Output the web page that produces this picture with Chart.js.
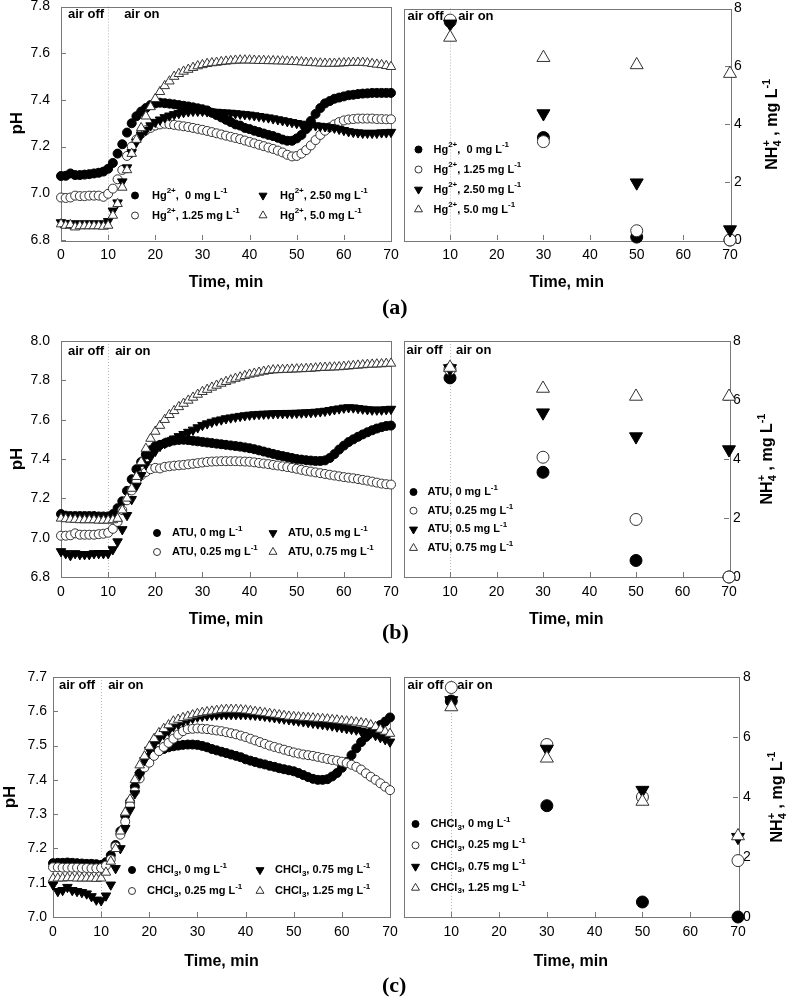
<!DOCTYPE html>
<html>
<head>
<meta charset="utf-8">
<script src="https://cdn.jsdelivr.net/npm/chart.js@4.4.1/dist/chart.umd.min.js"></script>
<style>
  body { margin: 0; background: #fff; }
  #page { position: relative; width: 788px; height: 1000px; overflow: hidden; }
  canvas { position: absolute; }
  .tag { position: absolute; font: bold 22px "Liberation Serif", "Times New Roman", serif; line-height: 22px; color: #000; }
</style>
</head>
<body>
<div id="page">
  <canvas id="aL"></canvas><canvas id="aR"></canvas>
  <canvas id="bL"></canvas><canvas id="bR"></canvas>
  <canvas id="cL"></canvas><canvas id="cR"></canvas>
  <div class="tag" style="left:382px;top:296px">(a)</div>
  <div class="tag" style="left:382px;top:621px">(b)</div>
  <div class="tag" style="left:382px;top:974px">(c)</div>
</div>
<script>
const FONT = '"Liberation Sans", Arial, Helvetica, sans-serif';
Chart.defaults.font.family = FONT;
Chart.defaults.color = '#000';

// x values
const minutes = [0,1,2,3,4,5,6,7,8,9,10,11,12,13,14,15,16,17,18,19,20,
  21,22,23,24,25,26,27,28,29,30,31,32,33,34,35,36,37,38,39,40,
  41,42,43,44,45,46,47,48,49,50,51,52,53,54,55,56,57,58,59,60,
  61,62,63,64,65,66,67,68,69,70];
const sampleMinutes = [10, 30, 50, 70];

// (a) pH with Hg2+
const phHg0 = [7.074,7.075,7.085,7.078,7.078,7.080,7.082,7.085,7.088,7.093,7.105,
  7.13,7.17,7.21,7.26,7.30,7.33,7.35,7.365,7.378,7.385,
  7.388,7.386,7.384,7.381,7.378,7.375,7.372,7.368,7.364,7.36,
  7.355,7.345,7.335,7.325,7.315,7.305,7.295,7.29,7.28,7.275,
  7.268,7.262,7.256,7.25,7.245,7.238,7.23,7.225,7.225,7.235,
  7.25,7.275,7.31,7.34,7.365,7.385,7.395,7.405,7.41,7.415,
  7.42,7.422,7.425,7.427,7.428,7.43,7.43,7.43,7.43,7.43];
const phHg125 = [6.982,6.98,6.982,6.99,6.988,6.988,6.99,6.99,6.99,6.985,6.998,
  7.02,7.06,7.10,7.16,7.20,7.23,7.255,7.27,7.28,7.29,
  7.295,7.298,7.296,7.293,7.29,7.287,7.284,7.28,7.276,7.272,
  7.267,7.262,7.257,7.252,7.247,7.242,7.237,7.232,7.226,7.22,
  7.214,7.208,7.202,7.196,7.19,7.183,7.175,7.165,7.158,7.16,
  7.17,7.185,7.205,7.228,7.25,7.268,7.283,7.295,7.305,7.312,
  7.316,7.318,7.32,7.32,7.32,7.32,7.318,7.318,7.317,7.317];
const phHg250 = [6.875,6.872,6.87,6.87,6.87,6.87,6.87,6.87,6.87,6.87,6.88,
  6.925,6.96,7.05,7.11,7.175,7.22,7.25,7.27,7.29,7.305,
  7.315,7.325,7.332,7.338,7.343,7.347,7.35,7.352,7.352,7.352,
  7.35,7.349,7.348,7.346,7.345,7.344,7.342,7.34,7.338,7.336,
  7.333,7.33,7.327,7.324,7.32,7.316,7.312,7.308,7.304,7.30,
  7.297,7.294,7.292,7.29,7.288,7.286,7.283,7.28,7.275,7.27,
  7.265,7.262,7.26,7.258,7.258,7.258,7.258,7.26,7.26,7.262];
const phHg50 = [6.868,6.862,6.865,6.855,6.86,6.86,6.86,6.86,6.86,6.858,6.862,
  6.905,6.955,7.025,7.10,7.17,7.23,7.28,7.33,7.37,7.405,
  7.435,7.46,7.48,7.50,7.512,7.522,7.53,7.538,7.545,7.55,
  7.555,7.558,7.56,7.563,7.565,7.567,7.569,7.57,7.57,7.57,
  7.569,7.568,7.568,7.567,7.567,7.566,7.566,7.565,7.564,7.563,
  7.562,7.56,7.56,7.558,7.557,7.556,7.556,7.556,7.557,7.558,
  7.559,7.56,7.56,7.56,7.558,7.555,7.552,7.55,7.546,7.542];

// (a) NH4+ with Hg2+
const nh4Hg0 = [7.55, 3.54, 0.10, 0.00];
const nh4Hg125 = [7.60, 3.40, 0.32, 0.00];
const nh4Hg250 = [7.47, 4.37, 1.98, 0.36];
const nh4Hg50 = [7.00, 6.30, 6.05, 5.75];

// (b) pH with ATU
const phAtu0 = [7.12,7.112,7.11,7.11,7.11,7.11,7.11,7.11,7.108,7.108,7.108,
  7.12,7.15,7.185,7.238,7.297,7.348,7.385,7.423,7.445,7.465,
  7.472,7.48,7.488,7.494,7.497,7.498,7.496,7.493,7.49,7.487,
  7.484,7.481,7.478,7.475,7.472,7.469,7.466,7.463,7.459,7.455,
  7.45,7.444,7.438,7.432,7.426,7.42,7.415,7.41,7.405,7.40,
  7.397,7.394,7.392,7.39,7.39,7.393,7.405,7.425,7.448,7.468,
  7.486,7.50,7.513,7.525,7.536,7.546,7.555,7.562,7.568,7.57];
const phAtu025 = [7.01,7.01,7.012,7.022,7.015,7.015,7.015,7.015,7.018,7.02,7.025,
  7.045,7.08,7.14,7.19,7.24,7.284,7.317,7.334,7.348,7.355,
  7.352,7.36,7.363,7.366,7.368,7.37,7.373,7.376,7.379,7.382,
  7.385,7.387,7.388,7.389,7.389,7.389,7.389,7.388,7.387,7.386,
  7.383,7.38,7.377,7.374,7.37,7.367,7.363,7.359,7.355,7.35,
  7.345,7.34,7.336,7.332,7.328,7.324,7.32,7.316,7.312,7.308,
  7.305,7.302,7.298,7.294,7.29,7.285,7.28,7.275,7.272,7.27];
const phAtu05 = [6.93,6.92,6.91,6.92,6.915,6.915,6.915,6.92,6.92,6.92,6.92,
  6.94,6.98,7.042,7.114,7.195,7.263,7.317,7.372,7.41,7.44,
  7.465,7.48,7.492,7.503,7.515,7.526,7.537,7.548,7.56,7.572,
  7.58,7.588,7.595,7.60,7.606,7.61,7.614,7.618,7.621,7.624,
  7.626,7.628,7.629,7.63,7.631,7.632,7.632,7.633,7.633,7.634,
  7.635,7.636,7.637,7.639,7.641,7.644,7.648,7.652,7.656,7.66,
  7.662,7.661,7.658,7.655,7.652,7.65,7.65,7.65,7.652,7.654];
const phAtu075 = [7.098,7.095,7.093,7.092,7.09,7.09,7.09,7.09,7.088,7.088,7.088,
  7.09,7.097,7.14,7.20,7.25,7.31,7.385,7.453,7.504,7.54,
  7.57,7.60,7.625,7.645,7.665,7.682,7.698,7.713,7.728,7.742,
  7.753,7.764,7.774,7.784,7.793,7.801,7.809,7.816,7.823,7.83,
  7.835,7.84,7.845,7.849,7.852,7.853,7.854,7.855,7.856,7.857,
  7.858,7.859,7.86,7.862,7.864,7.865,7.866,7.867,7.868,7.87,
  7.872,7.874,7.876,7.878,7.88,7.881,7.882,7.883,7.885,7.886];

// (b) NH4+ with ATU
const nh4Atu0 = [6.75, 3.55, 0.56, 0.00];
const nh4Atu025 = [7.05, 4.06, 1.95, 0.00];
const nh4Atu05 = [7.07, 5.57, 4.76, 4.32];
const nh4Atu075 = [7.10, 6.39, 6.12, 6.12];

// (c) pH with CHCl3
const phChl0 = [7.157,7.158,7.158,7.159,7.158,7.157,7.156,7.155,7.155,7.154,7.152,
  7.16,7.18,7.21,7.25,7.295,7.336,7.38,7.419,7.445,7.467,
  7.475,7.484,7.49,7.495,7.498,7.50,7.502,7.503,7.503,7.502,
  7.499,7.495,7.49,7.486,7.482,7.478,7.474,7.47,7.466,7.46,
  7.456,7.452,7.448,7.445,7.441,7.438,7.434,7.431,7.428,7.425,
  7.42,7.414,7.408,7.403,7.40,7.40,7.402,7.41,7.42,7.435,
  7.452,7.472,7.492,7.51,7.525,7.538,7.55,7.56,7.57,7.582];
const phChl025 = [7.145,7.145,7.144,7.144,7.144,7.144,7.143,7.143,7.142,7.142,7.143,
  7.15,7.168,7.205,7.24,7.278,7.325,7.366,7.404,7.436,7.45,
  7.47,7.484,7.496,7.508,7.52,7.532,7.542,7.548,7.549,7.55,
  7.549,7.548,7.546,7.544,7.542,7.539,7.536,7.533,7.529,7.525,
  7.52,7.515,7.51,7.505,7.50,7.496,7.492,7.488,7.484,7.48,
  7.477,7.474,7.472,7.47,7.467,7.464,7.461,7.458,7.456,7.453,
  7.449,7.444,7.438,7.43,7.419,7.409,7.40,7.39,7.38,7.37];
const phChl075 = [7.094,7.075,7.078,7.087,7.078,7.075,7.072,7.068,7.06,7.05,7.048,
  7.062,7.094,7.142,7.20,7.259,7.312,7.36,7.414,7.457,7.487,
  7.504,7.52,7.532,7.543,7.556,7.563,7.57,7.575,7.58,7.584,
  7.586,7.588,7.589,7.59,7.591,7.591,7.591,7.591,7.591,7.591,
  7.59,7.589,7.588,7.586,7.584,7.582,7.58,7.578,7.576,7.574,
  7.572,7.57,7.568,7.566,7.564,7.562,7.56,7.558,7.555,7.553,
  7.55,7.548,7.546,7.543,7.54,7.536,7.53,7.524,7.518,7.511];
const phChl125 = [7.112,7.113,7.113,7.114,7.114,7.113,7.113,7.113,7.113,7.112,7.113,
  7.13,7.162,7.199,7.25,7.305,7.343,7.40,7.443,7.469,7.497,
  7.52,7.537,7.549,7.56,7.571,7.576,7.581,7.585,7.589,7.593,
  7.596,7.598,7.60,7.602,7.604,7.605,7.605,7.605,7.604,7.603,
  7.601,7.599,7.597,7.595,7.593,7.591,7.589,7.587,7.585,7.584,
  7.583,7.582,7.581,7.58,7.579,7.578,7.577,7.575,7.574,7.572,
  7.571,7.57,7.568,7.566,7.564,7.56,7.555,7.547,7.541,7.535];

// (c) NH4+ with CHCl3
const nh4Chl0 = [7.20, 3.71, 0.50, 0.00];
const nh4Chl025 = [7.65, 5.75, 4.00, 1.88];
const nh4Chl075 = [7.22, 5.60, 4.23, 2.66];
const nh4Chl125 = [7.00, 5.29, 3.85, 2.70];

// legend texts (s: sup/sub, stack: drawn above the previous piece)
const mgL = [{t: ' mg L'}, {t: '-1', s: 'sup'}];
const hgNames = [
  [{t: 'Hg'}, {t: '2+', s: 'sup'}, {t: ',  0'}, ...mgL],
  [{t: 'Hg'}, {t: '2+', s: 'sup'}, {t: ', 1.25'}, ...mgL],
  [{t: 'Hg'}, {t: '2+', s: 'sup'}, {t: ', 2.50'}, ...mgL],
  [{t: 'Hg'}, {t: '2+', s: 'sup'}, {t: ', 5.0'}, ...mgL]
];
const atuNames = [
  [{t: 'ATU, 0'}, ...mgL],
  [{t: 'ATU, 0.25'}, ...mgL],
  [{t: 'ATU, 0.5'}, ...mgL],
  [{t: 'ATU, 0.75'}, ...mgL]
];
const chlNames = [
  [{t: 'CHCl'}, {t: '3', s: 'sub'}, {t: ', 0'}, ...mgL],
  [{t: 'CHCl'}, {t: '3', s: 'sub'}, {t: ', 0.25'}, ...mgL],
  [{t: 'CHCl'}, {t: '3', s: 'sub'}, {t: ', 0.75'}, ...mgL],
  [{t: 'CHCl'}, {t: '3', s: 'sub'}, {t: ', 1.25'}, ...mgL]
];
const nh4Title = [{t: 'NH'}, {t: '4', s: 'sub'}, {t: '+', s: 'sup', stack: true}, {t: ' , mg L'}, {t: '-1', s: 'sup'}];

// marker looks, one per series
const markers = [
  {style: 'circle', fill: '#000', stroke: '#000', rot: 0},
  {style: 'circle', fill: '#fff', stroke: '#333', rot: 0},
  {style: 'triangle', fill: '#000', stroke: '#000', rot: 180},
  {style: 'triangle', fill: '#fff', stroke: '#333', rot: 0}
];

const panels = [
  {id: 'aL', side: 'left', xs: minutes, series: [phHg0, phHg125, phHg250, phHg50], names: hgNames,
   y: [6.8, 7.8, 0.2], box: [0, 0, 400, 300], pad: {left: 0, top: 6, right: 9, bottom: 8}, axisW: 61, axisH: 52,
   titlePad: 7, tickPad: 11, air: [7, 16, 8], leg: {x: 74, y: 189, gap: 20, col: 128, dx: 17}},
  {id: 'aR', side: 'right', xs: sampleMinutes, series: [nh4Hg0, nh4Hg125, nh4Hg250, nh4Hg50], names: hgNames,
   y: [0, 8, 2], box: [395, 0, 393, 300], pad: {left: 8, top: 6, right: 0, bottom: 8}, axisW: 58, axisH: 52,
   tickPad: 4, air: [4, 8, 8], leg: {x: 15, y: 141, gap: 20, dx: 15}, titleDx: 43},
  {id: 'bL', side: 'left', xs: minutes, series: [phAtu0, phAtu025, phAtu05, phAtu075], names: atuNames,
   y: [6.8, 8.0, 0.2], box: [0, 320, 400, 320], pad: {left: 0, top: 21, right: 9, bottom: 11}, axisW: 61, axisH: 52,
   titlePad: 7, tickPad: 11, air: [7, 7, 10], leg: {x: 96, y: 192, gap: 19, col: 116, dx: 15}},
  {id: 'bR', side: 'right', xs: sampleMinutes, series: [nh4Atu0, nh4Atu025, nh4Atu05, nh4Atu075], names: atuNames,
   y: [0, 8, 2], box: [395, 320, 393, 320], pad: {left: 8, top: 21, right: 0, bottom: 11}, axisW: 59, axisH: 52,
   tickPad: 4, air: [3, 6, 9], leg: {x: 10, y: 151, gap: 18.7, dx: 14}, titleDx: 39},
  {id: 'cL', side: 'left', xs: minutes, series: [phChl0, phChl025, phChl075, phChl125], names: chlNames,
   y: [7.0, 7.7, 0.1], box: [0, 650, 400, 330], pad: {left: 0, top: 27, right: 10, bottom: 9}, axisW: 53, axisH: 54,
   titlePad: 0, tickPad: 6, air: [6, 7, 8], leg: {x: 79, y: 193, gap: 21, col: 128, dx: 15}},
  {id: 'cR', side: 'right', xs: sampleMinutes, series: [nh4Chl0, nh4Chl025, nh4Chl075, nh4Chl125], names: chlNames,
   y: [0, 8, 2], box: [395, 650, 393, 330], pad: {left: 8, top: 27, right: 0, bottom: 9}, axisW: 50, axisH: 54,
   tickPad: 5, air: [4, 6, 8], leg: {x: 12, y: 147, gap: 21.3, dx: 15}, titleDx: 40}
];
const panelById = {};
panels.forEach(p => { panelById[p.id] = p; });

function richFont(p, size) {
  return 'bold ' + (p.s ? Math.round(size * 0.7) : size) + 'px ' + FONT;
}

function drawRich(ctx, parts, x, y, size, align) {
  let pos = 0, prevStart = 0;
  const items = [];
  for (const p of parts) {
    ctx.font = richFont(p, size);
    const w = ctx.measureText(p.t).width;
    const start = p.stack ? prevStart : pos;
    items.push({p, start});
    pos = p.stack ? Math.max(pos, start + w) : start + w;
    prevStart = start;
  }
  const x0 = align === 'center' ? x - pos / 2 : x;
  ctx.textAlign = 'left';
  ctx.textBaseline = 'middle';
  for (const it of items) {
    ctx.font = richFont(it.p, size);
    const dy = it.p.s === 'sup' ? -size * 0.4 : it.p.s === 'sub' ? size * 0.3 : 0;
    ctx.fillText(it.p.t, x0 + it.start, y + dy);
  }
}

function drawMarker(ctx, m, x, y, r) {
  ctx.beginPath();
  if (m.style === 'circle') {
    ctx.arc(x, y, r, 0, Math.PI * 2);
  } else {
    const s = m.rot ? -1 : 1;
    ctx.moveTo(x, y - s * r);
    ctx.lineTo(x + r * 0.866, y + s * r / 2);
    ctx.lineTo(x - r * 0.866, y + s * r / 2);
    ctx.closePath();
  }
  ctx.fillStyle = m.fill;
  ctx.fill();
  ctx.lineWidth = 1;
  ctx.strokeStyle = m.stroke;
  ctx.stroke();
}

// frame, inward ticks, aeration line, notes and legend
const decor = {
  id: 'decor',
  beforeDatasetsDraw(chart) {
    const p = panelById[chart.canvas.id];
    const {ctx, chartArea: a, scales} = chart;
    ctx.save();
    const xl = Math.round(scales.x.getPixelForValue(10)) + 0.5;
    ctx.strokeStyle = '#b5b5b5';
    ctx.lineWidth = 1;
    ctx.setLineDash([1, 2]);
    ctx.beginPath();
    ctx.moveTo(xl, a.top);
    ctx.lineTo(xl, a.bottom);
    ctx.stroke();
    ctx.setLineDash([]);
    ctx.strokeStyle = '#777';
    ctx.strokeRect(Math.round(a.left) + 0.5, Math.round(a.top) + 0.5,
      Math.round(a.right - a.left), Math.round(a.bottom - a.top));
    ctx.beginPath();
    scales.x.ticks.forEach(t => {
      const px = Math.round(scales.x.getPixelForValue(t.value)) + 0.5;
      ctx.moveTo(px, a.bottom);
      ctx.lineTo(px, a.bottom - 5);
    });
    scales.y.ticks.forEach(t => {
      const py = Math.round(scales.y.getPixelForValue(t.value)) + 0.5;
      const ex = p.side === 'right' ? a.right : a.left;
      ctx.moveTo(ex, py);
      ctx.lineTo(p.side === 'right' ? ex - 5 : ex + 5, py);
    });
    ctx.stroke();
    ctx.restore();
  },
  afterDatasetsDraw(chart) {
    const p = panelById[chart.canvas.id];
    const {ctx, chartArea: a, scales} = chart;
    ctx.save();
    ctx.fillStyle = '#000';
    ctx.font = 'bold 13px ' + FONT;
    ctx.textBaseline = 'middle';
    ctx.textAlign = 'left';
    const xl = scales.x.getPixelForValue(10);
    ctx.fillText('air off', a.left + p.air[0], a.top + p.air[2]);
    ctx.fillText('air on', xl + p.air[1], a.top + p.air[2]);

    const L = p.leg;
    p.names.forEach((name, i) => {
      let mx, my;
      if (p.side === 'left') {
        mx = a.left + L.x + (i > 1 ? L.col : 0);
        my = a.top + L.y + (i % 2) * L.gap;
      } else {
        mx = a.left + L.x;
        my = a.top + L.y + i * L.gap;
      }
      drawMarker(ctx, markers[i], mx, my, markers[i].style === 'circle' ? 3.5 : 4.6);
      ctx.fillStyle = '#000';
      drawRich(ctx, name, mx + L.dx, my, 11, 'left');
    });

    if (p.side === 'right') {
      ctx.translate(a.right + p.titleDx, (a.top + a.bottom) / 2);
      ctx.rotate(-Math.PI / 2);
      drawRich(ctx, nh4Title, 0, 0, 16, 'center');
    }
    ctx.restore();
  }
};

function fixW(w) {
  return s => { s.width = w; s.paddingTop = 0; s.paddingBottom = 0; s.paddingLeft = 0; s.paddingRight = 0; };
}
function fixH(h) {
  return s => { s.height = h; s.paddingTop = 0; s.paddingBottom = 0; s.paddingLeft = 0; s.paddingRight = 0; };
}

panels.forEach(p => {
  const canvas = document.getElementById(p.id);
  canvas.width = p.box[2];
  canvas.height = p.box[3];
  canvas.style.left = p.box[0] + 'px';
  canvas.style.top = p.box[1] + 'px';
  const big = p.side === 'right';

  const datasets = p.series.map((vals, i) => {
    const m = markers[i];
    const r = m.style === 'circle' ? (big ? 6 : 4.5) : (big ? 7.5 : 5.5);
    return {
      data: p.xs.map((x, k) => ({x: x, y: vals[k]})),
      clip: false,
      pointStyle: m.style,
      pointRotation: m.rot,
      pointRadius: r,
      pointHoverRadius: r,
      pointBackgroundColor: m.fill,
      pointBorderColor: m.stroke,
      pointBorderWidth: 1,
      order: 3 - i
    };
  });

  const yDecimals = p.y[2] < 1 ? 1 : 0;
  new Chart(canvas, {
    type: 'scatter',
    data: {datasets},
    plugins: [decor],
    options: {
      responsive: false,
      animation: false,
      layout: {padding: p.pad},
      plugins: {legend: {display: false}, tooltip: {enabled: false}},
      scales: {
        x: {
          type: 'linear', min: 0, max: 70,
          grid: {display: false, drawTicks: false},
          border: {display: false},
          ticks: {
            stepSize: 10, maxRotation: 0, padding: 7, color: '#000',
            font: {size: 14},
            callback: v => (big && v === 0) ? '' : v
          },
          title: {display: true, text: 'Time, min', color: '#000', padding: 0,
            font: {size: 16, weight: 'bold'}},
          afterFit: fixH(p.axisH)
        },
        y: {
          type: 'linear', position: p.side, min: p.y[0], max: p.y[1],
          grid: {display: false, drawTicks: false},
          border: {display: false},
          ticks: {
            stepSize: p.y[2], padding: p.tickPad, color: '#000',
            font: {size: 14},
            callback: v => v.toFixed(yDecimals)
          },
          title: big ? {display: false} : {display: true, text: 'pH', color: '#000',
            padding: {top: p.titlePad, bottom: 0}, font: {size: 17, weight: 'bold'}},
          afterFit: fixW(p.axisW)
        }
      }
    }
  });
});
</script>
</body>
</html>
